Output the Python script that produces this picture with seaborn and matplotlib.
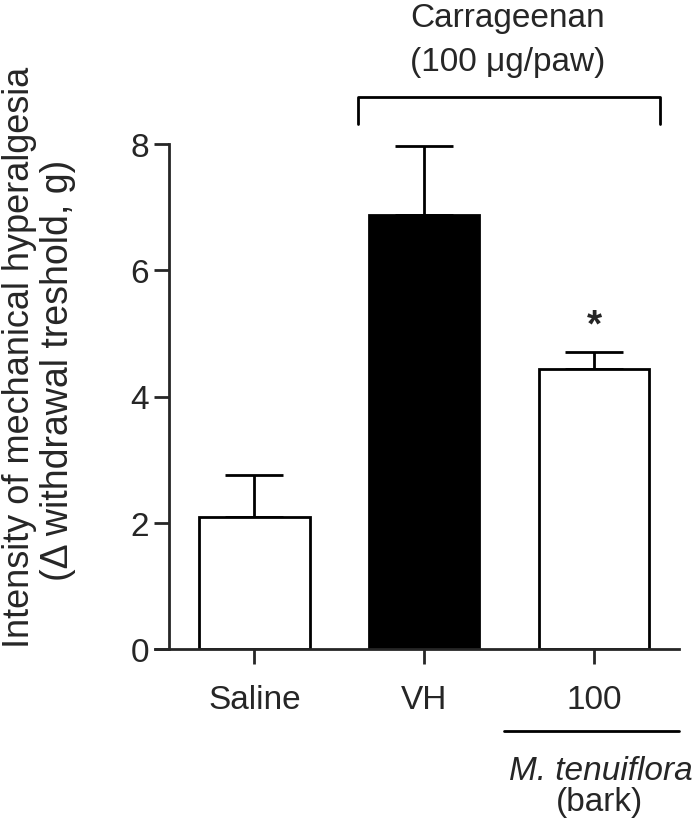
import numpy as np
import pandas as pd
import seaborn as sns
import matplotlib
matplotlib.use("Agg")
import matplotlib.pyplot as plt

# data
groups = ["Saline", "VH", "100"]
means = [2.09, 6.88, 4.43]
sem_up = [0.66, 1.09, 0.27]
bar_colors = ["white", "black", "white"]

sns.set_theme(style="ticks")
plt.rcParams["font.family"] = ["Liberation Sans", "DejaVu Sans"]

df = pd.DataFrame({"group": groups, "value": means})

fig = plt.figure(figsize=(6.97, 8.28), dpi=100)
ax = fig.add_axes([155 / 697, (828 - 650) / 828, 524 / 697, 505 / 828])

sns.barplot(data=df, x="group", y="value", hue="group", palette=bar_colors,
            edgecolor="black", linewidth=2, width=0.65, legend=False, ax=ax)
ax.errorbar(range(len(groups)), means, yerr=[np.zeros(len(groups)), sem_up],
            fmt="none", ecolor="black", elinewidth=2, capsize=21, capthick=2,
            clip_on=False, zorder=0)

ax.set_xlim(-0.585, 2.5)
ax.set_ylim(0, 8)
ax.set_yticks([0, 2, 4, 6, 8])
for s in ["top", "right"]:
    ax.spines[s].set_visible(False)
ax.spines["left"].set_position(("data", -0.5))
ax.spines["left"].set_linewidth(2)
ax.spines["bottom"].set_linewidth(2)
ax.tick_params(axis="y", length=10.5, width=2, labelsize=24, pad=4)
ax.tick_params(axis="x", length=11, width=2, labelsize=24, pad=14)
ax.set_xlabel("")
ax.set_ylabel("")

# significance mark
ax.text(2, 5.12, "*", ha="center", va="center", fontsize=28, fontweight="bold")

# carrageenan bracket
ax.plot([0.61, 0.61, 2.39, 2.39], [8.32, 8.75, 8.75, 8.32], color="black",
        lw=2, clip_on=False)
fig.text(508 / 697, 1 - 18 / 828, "Carrageenan", ha="center", va="center", fontsize=24)
fig.text(508 / 697, 1 - 62 / 828, "(100 \u03bcg/paw)", ha="center", va="center", fontsize=24)

# extract label under the 100 group
ax.plot([1.47, 2.5], [-1.3, -1.3], color="black", lw=2, clip_on=False)
fig.text(601 / 697, 1 - 772 / 828, "M. tenuiflora", ha="center", va="center",
         fontsize=24, style="italic")
fig.text(600 / 697, 1 - 803 / 828, "(bark)", ha="center", va="center", fontsize=24)

# y label, two lines
fig.text(20 / 697, 1 - 357 / 828, "Intensity of mechanical hyperalgesia",
         rotation=90, ha="center", va="center", fontsize=26)
fig.text(58 / 697, 1 - 370 / 828, "(\u0394 withdrawal treshold, g)",
         rotation=90, ha="center", va="center", fontsize=27)

fig.savefig("out.png", dpi=100)
